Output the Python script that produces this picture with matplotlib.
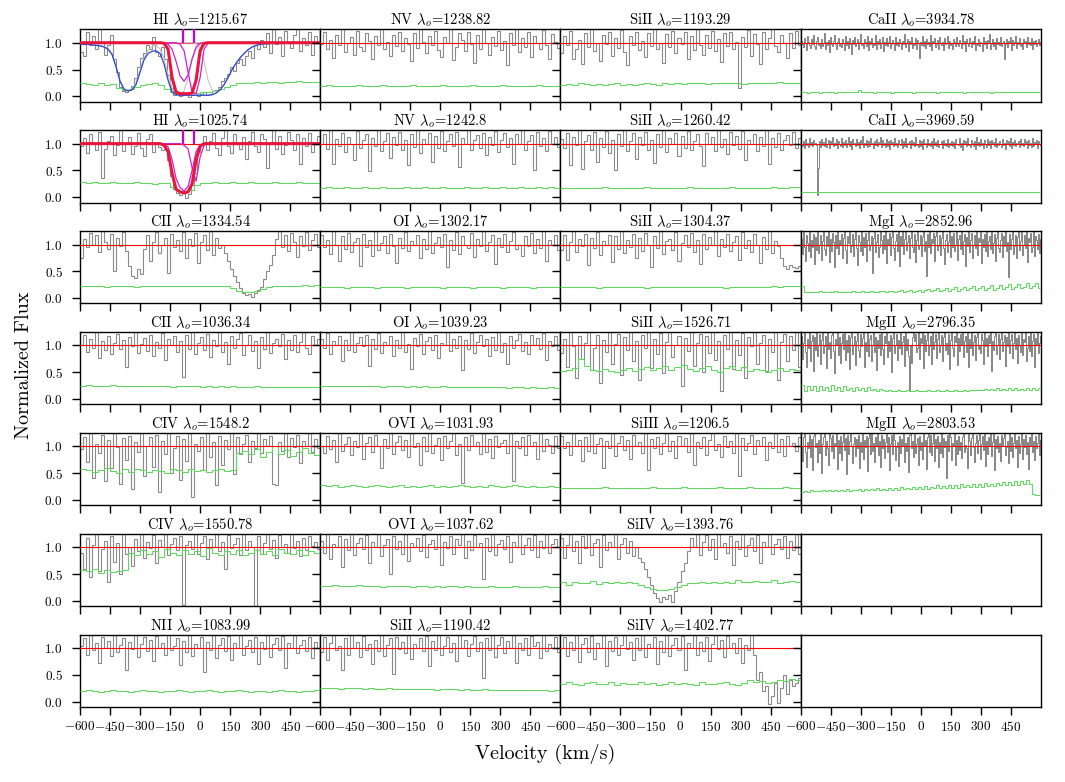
import numpy as np
import matplotlib
matplotlib.use('Agg')
import matplotlib.pyplot as plt

plt.rcParams['font.family'] = 'serif'
plt.rcParams['font.serif'] = ['cmr10']
plt.rcParams['mathtext.fontset'] = 'cm'
plt.rcParams['axes.formatter.use_mathtext'] = True
plt.rcParams['axes.linewidth'] = 1.0

# ---------------- panel labels ----------------
ions = ['HI', 'NV', 'SiII', 'CaII', 'HI', 'NV', 'SiII', 'CaII', 'CII', 'OI', 'SiII', 'MgI',
        'CII', 'OI', 'SiII', 'MgII', 'CIV', 'OVI', 'SiIII', 'MgII', 'CIV', 'OVI', 'SiIV',
        'NII', 'SiII', 'SiIV']
waves = ['1215.67', '1238.82', '1193.29', '3934.78', '1025.74', '1242.8', '1260.42', '3969.59',
         '1334.54', '1302.17', '1304.37', '2852.96', '1036.34', '1039.23', '1526.71', '2796.35',
         '1548.2', '1031.93', '1206.5', '2803.53', '1550.78', '1037.62', '1393.76',
         '1083.99', '1190.42', '1402.77']
xticks = [-600, -450, -300, -150, 0, 150, 300, 450]
yticks = [0.0, 0.5, 1.0]

# ---------------- normalized flux (x100) ----------------
flux_HI1215 = [82,75,120,95,112,88,125,102,78,96,115,70,45,18,10,8,12,20,35,55,72,80,95,88,110,82,75,92,
               70,40,15,3,5,0,2,4,-2,3,6,1,4,8,3,5,10,12,18,28,35,42,55,48,62,70,58,75,85,72,95,88,
               105,92,118,80,125,98,110,75,122,100,90,115,125,85,108,95,120,78,112,100]
flux_NV1238 = [98,120,88,105,72,115,95,125,82,100,110,78,122,92,85,118,104,70,112,96,125,88,102,76,115,94,120,84,108,98,
               66,118,90,125,102,80,112,95,122,86,74,110,100,125,68,92,118,105,84,120,97,62,115,88,125,100,78,110,94,122,
               86,104,58,118,96,125,82,108,92,120,74,112,100,88,124,95,70,116,102,90]
flux_SiII1193 = [80,112,95,122,70,88,105,60,118,92,125,84,100,66,115,98,120,76,108,90,124,82,58,112,96,120,86,104,74,118,
                 94,125,88,100,62,116,92,122,80,108,98,120,70,112,86,125,96,78,114,90,122,84,106,64,118,94,120,88,102,15,
                 110,92,124,76,116,98,60,120,88,108,125,94,82,114,100,72,118,90,122,96]
flux_CaII3934 = [104,97,92,108,99,86,112,101,95,90,106,98,114,93,88,103,110,96,100,91,
                 107,94,99,118,89,102,96,105,83,110,98,93,104,115,97,88,101,109,94,99,
                 92,106,100,87,113,96,103,91,108,98,79,105,97,111,93,100,106,89,102,117,
                 95,99,90,107,101,94,112,86,104,98,109,92,100,96,115,88,103,97,106,91,
                 99,110,85,102,96,108,94,101,113,90,97,105,99,87,111,95,102,93,107,100,
                 89,104,97,116,92,99,106,84,103,98,110,91,100,95,108,88,105,99,72,101,
                 96,112,93,104,90,107,98,101,94,114,87,103,99,109,92,97,105,89,111,100,
                 95,102,86,108,97,100,113,91,104,96,99,88,107,102,94,110,98,93,105,100,
                 90,115,97,103,85,106,99,94,109,101,92,104,98,112,87,100,96,107,93,102,
                 99,84,110,97,103,91,105,100,116,89,98,106,94,101,88,108,97,102,95,111,
                 93,100,104,70,98,107,92,103,99,110,86,105,96,101,113,90,102,97,108,94,
                 100,88,106,99,104,92,111,97,101,95,109,89,103,98,105,93,100,107,96,102]
flux_HI1025 = [95,110,82,118,100,88,122,35,90,105,115,78,98,125,86,102,112,80,96,120,92,76,108,118,85,100,94,88,
               90,70,40,15,8,5,10,-2,6,22,45,85,100,
               115,88,105,120,92,78,110,125,95,82,118,100,90,112,72,105,122,96,85,118,108,55,100,125,90,115,80,98,122,106,
               88,118,62,110,95,120,85,102,115]
flux_NV1242 = [100,118,90,125,62,108,96,120,84,112,100,70,124,92,106,118,48,110,96,125,86,104,120,74,112,98,122,88,106,60,
               118,94,125,82,108,100,120,66,114,92,124,86,104,118,96,122,56,110,100,125,88,106,116,92,120,78,112,98,124,84,
               106,120,94,110,62,118,100,125,88,104,116,50,122,96,110,86,124,100,112,94]
flux_SiII1260 = [108,92,120,60,112,98,125,52,104,116,88,122,66,110,94,124,82,106,50,118,96,125,86,104,120,72,112,98,122,88,
                 106,64,118,94,125,84,110,100,120,76,114,92,124,88,104,118,96,58,120,100,112,86,125,94,108,80,122,98,114,90,
                 124,70,106,100,118,86,112,96,125,62,110,94,120,88,106,116,98,122,92,110]
flux_CaII3969 = [100,96,104,92,108,97,102,94,110,98,103,95,107,99,101,97,5,55,105,93,
                 109,98,103,96,111,94,100,106,92,104,99,113,95,102,97,108,91,105,100,96,
                 110,94,103,98,107,93,101,112,96,104,90,108,99,102,95,109,97,103,92,106,
                 100,114,94,101,98,107,93,104,96,110,99,102,91,105,97,108,95,103,100,112,
                 93,106,98,101,94,109,96,104,90,107,99,103,95,111,97,102,93,106,100,98,
                 108,92,104,96,110,94,101,99,105,91,107,97,103,95,112,98,100,93,106,96,
                 104,90,109,99,102,94,108,97,101,95,105,92,110,98,103,96,107,94,100,99,
                 104,91,106,97,102,95,109,93,101,98,105,96,103,92,108,99,100,97,111,94,
                 102,88,106,99,104,95,110,97,100,93,107,101,96,105,90,112,98,103,95,108,
                 97,102,92,106,100,94,109,98,104,91,107,99,103,96,110,93,101,97,105,100,
                 94,108,98,102,90,106,99,104,96,111,92,103,98,107,95,101,100,105,93,109,
                 97,102,95,108,99,104,91,106,98,101,94,110,96,103,99,107,92,105,100,98]
flux_CII1334 = [75,110,95,122,100,118,86,125,104,92,120,50,112,98,124,88,60,42,38,55,45,
                92,118,70,105,124,85,100,112,46,120,95,108,88,124,75,110,98,122,66,104,118,90,125,80,112,94,100,85,70,
                55,42,30,18,10,5,8,2,10,15,20,35,50,62,80,
                110,125,95,118,88,122,104,76,115,98,124,90,108,120,96]
flux_OI1302 = [118,95,108,82,125,100,70,115,92,122,86,104,112,60,120,96,108,78,125,90,102,116,84,120,98,66,112,94,124,88,
               106,100,118,74,110,92,125,84,102,114,96,120,58,108,90,124,82,116,100,94,122,76,110,98,125,88,104,118,64,112,
               96,120,86,106,124,92,100,78,115,98,122,84,110,94,125,70,108,100,118,90]
flux_SiII1304 = [90,118,72,104,125,86,110,98,120,62,112,94,124,80,106,100,118,68,115,92,125,84,108,96,120,74,112,88,122,100,
                 58,116,94,125,82,106,110,90,124,70,102,118,96,122,86,108,64,120,92,114,100,125,78,110,96,120,88,104,116,72,
                 124,94,108,86,120,100,66,114,92,125,84,106,98,75,60,55,62,58,56,60]
flux_MgI2852 = [110,82,124,95,70,118,102,88,125,76,108,96,120,64,114,90,125,84,100,118,
                72,106,125,92,80,116,98,125,68,110,88,122,104,58,118,94,125,82,108,100,
                120,74,112,125,90,66,116,102,124,86,98,120,78,110,125,94,62,118,104,88,
                125,80,114,96,122,70,108,125,90,100,116,46,112,124,86,104,120,76,96,125,
                108,84,118,92,125,66,110,100,122,80,114,125,94,72,106,120,88,125,60,116,
                98,124,82,110,125,90,104,118,74,112,125,96,86,120,68,108,124,92,100,118,
                78,114,125,88,106,42,120,96,125,84,110,102,122,70,116,125,90,98,118,80,
                112,125,94,64,108,120,86,104,125,76,116,96,122,88,100,125,72,110,118,92,
                125,82,106,120,60,114,98,125,86,108,122,74,100,118,94,125,80,112,104,124,
                66,110,96,120,88,125,78,106,116,92,124,84,102,120,70,112,125,94,86,108,
                122,76,116,98,125,88,104,40,120,92,110,125,82,98,118,74,114,125,90,106,
                124,80,100,118,94,125,68,112,104,122,86,96,125,78,116,108,92,120,84,110]
flux_CII1036 = [100,120,88,112,96,125,76,108,92,118,84,104,122,94,110,60,116,98,125,86,102,114,90,120,80,106,96,124,72,112,
                100,118,88,108,42,120,94,125,84,104,116,92,122,78,110,98,125,88,106,66,118,96,112,124,82,100,120,90,108,58,
                116,94,125,86,104,112,98,122,74,110,92,120,88,106,125,96,84,118,100,112]
flux_OI1039 = [112,96,124,84,108,100,118,70,110,92,125,88,104,116,98,120,62,112,94,124,86,106,100,118,80,110,96,125,88,102,
               56,114,98,122,84,108,116,92,120,76,104,100,125,90,112,96,118,54,110,94,124,86,106,120,98,112,80,116,92,125,
               88,104,66,118,96,110,122,90,106,84,120,100,114,94,124,72,108,98,118,92]
flux_SiII1526 = [85,112,60,125,98,40,118,75,104,125,55,96,120,30,110,88,125,65,102,122,45,115,92,125,70,108,35,120,96,125,
                 58,112,84,124,48,106,125,78,100,118,25,114,90,125,62,104,122,50,118,86,125,72,108,15,120,94,125,56,110,82,
                 124,40,116,98,125,66,104,120,52,112,88,125,35,106,122,70,118,92,125,60]
flux_MgII2796 = [118,75,104,125,88,60,112,96,125,70,108,120,52,116,92,125,80,100,122,66,
                 110,125,86,98,118,58,124,94,106,76,120,125,90,48,112,100,125,82,116,68,
                 104,122,94,125,72,110,88,120,56,116,125,84,100,118,64,108,125,92,78,122,
                 98,114,125,60,106,90,124,80,112,120,70,100,125,88,116,54,110,96,122,82,
                 125,94,66,118,104,125,78,108,90,120,50,114,125,86,100,122,72,110,96,125,
                 84,106,118,62,124,92,112,80,15,100,68,116,125,108,122,88,96,125,74,114,
                 104,125,58,120,90,110,125,82,98,118,66,124,94,106,122,76,112,125,88,100,
                 120,70,116,125,92,104,84,122,56,110,125,96,80,118,106,125,64,114,90,122,
                 100,125,78,108,118,88,124,60,112,96,125,82,106,120,72,116,125,94,100,86,
                 122,110,66,125,98,114,80,120,104,125,52,108,92,118,125,84,100,122,74,112,
                 125,90,106,120,62,116,98,125,86,110,122,76,104,125,94,114,68,120,100,88,
                 124,82,112,106,125,70,96,118,90,125,80,108,122,60,114,100,125,86,104,118]
flux_CIV1548 = [95,118,70,125,40,104,88,122,35,112,60,125,98,30,116,75,120,20,108,90,125,45,100,118,62,122,15,110,85,125,
                50,96,120,38,114,72,125,5,104,92,118,55,124,80,108,28,120,66,112,95,125,48,118,85,104,122,70,110,96,125,
                88,114,100,120,30,28,108,92,125,80,116,98,122,68,110,100,125,90,114,96]
flux_OVI1031 = [100,88,120,95,112,70,125,92,104,118,84,110,98,124,76,106,118,90,122,100,60,114,96,125,86,108,120,94,112,80,
                124,98,106,65,118,92,125,88,102,116,74,120,96,110,124,84,104,32,118,94,122,100,108,86,125,90,114,78,120,98,
                106,112,88,124,35,110,96,118,84,122,100,108,76,125,92,114,102,88,120,96]
flux_SiIII1206 = [120,96,108,84,125,100,112,72,118,92,124,88,104,116,60,110,96,125,82,106,120,94,112,76,122,100,108,88,124,56,
                  114,96,118,86,106,125,92,110,78,120,100,116,90,124,66,108,96,118,84,112,125,94,104,80,120,98,110,88,124,45,
                  116,94,106,122,86,112,100,118,74,108,96,125,90,114,82,120,100,106,92,118]
flux_MgII2803 = [100,72,118,125,90,62,108,96,122,80,114,55,120,125,98,106,70,112,88,124,
                 50,104,118,125,84,110,96,66,125,116,92,122,78,106,100,124,58,112,88,120,
                 74,108,125,94,116,48,122,86,110,125,100,68,104,118,82,114,96,122,60,108,
                 90,125,76,112,98,120,54,116,125,86,124,92,106,70,118,100,125,84,110,62,
                 122,96,114,78,108,125,90,118,56,104,122,86,125,112,74,98,108,64,120,88,
                 114,100,124,70,106,92,118,52,122,125,96,110,80,125,88,104,116,66,120,94,
                 108,76,124,100,112,58,118,125,90,122,84,106,125,72,114,96,120,62,108,88,
                 124,80,116,98,110,40,122,92,125,118,74,106,100,124,66,112,86,120,94,108,
                 78,118,125,90,102,96,60,124,110,84,116,125,98,70,106,122,88,112,125,76,
                 104,120,94,125,64,110,86,118,100,124,82,108,125,56,114,96,120,90,106,72,
                 122,100,116,125,84,98,110,68,124,92,118,80,106,125,96,112,62,120,88,104,
                 125,76,114,98,122,86,108,58,118,100,124,90,110,74,120,96,106,125,84,112]
flux_CIV1550 = [90,60,118,45,104,125,55,96,112,35,120,72,108,50,124,88,100,65,116,92,125,80,110,98,122,70,114,100,125,86,
                106,118,94,120,-8,104,112,96,125,88,108,120,78,116,100,124,92,110,60,122,98,106,118,86,125,94,112,100,-10,120,
                88,108,124,96,114,80,122,100,106,90,125,98,112,84,118,94,120,102,110,96]
flux_OVI1037 = [112,90,124,78,106,100,120,64,116,94,125,86,108,118,96,122,70,110,100,124,84,104,116,50,120,96,112,88,125,74,
                108,100,118,92,122,82,106,114,96,125,66,110,98,120,88,116,104,124,80,112,94,122,100,108,40,118,92,125,86,106,
                114,96,120,72,110,100,124,88,104,118,94,122,82,112,98,125,90,106,116,100]
flux_SiIV1393 = [118,80,104,125,92,112,70,120,98,125,86,108,116,64,122,94,110,100,124,78,106,118,90,112,84,100,
                 80,72,60,45,30,15,5,-2,8,3,10,-3,18,35,55,70,
                 92,118,100,125,86,110,122,94,116,78,124,100,108,90,120,66,112,96,125,84,104,118,92,122,70,110,100,124,88,106,
                 116,96,120,80,112,94,125,88]
flux_NII1083 = [104,118,88,125,96,110,72,120,100,114,86,124,92,106,118,60,112,98,125,84,108,120,94,116,76,122,100,110,88,124,
                96,104,118,68,114,92,125,86,108,100,120,55,112,96,124,82,106,118,94,122,78,110,100,125,88,104,116,92,120,70,
                112,98,124,84,108,118,96,122,62,110,100,125,90,106,116,94,120,82,112,100]
flux_SiII1190 = [92,120,78,110,125,96,104,60,118,88,124,100,112,84,122,96,108,70,116,94,125,86,106,118,52,120,98,112,90,124,
                 80,108,100,118,94,122,66,114,96,125,88,104,120,92,110,76,124,100,116,86,108,122,94,112,45,118,96,125,84,106,
                 120,90,114,100,124,72,110,96,118,88,122,104,112,82,125,94,108,100,120,92]
flux_SiIV1402 = [100,120,86,112,96,125,74,108,118,92,122,80,110,100,124,66,114,94,120,88,106,125,98,112,78,118,96,124,84,108,
                 100,120,70,114,92,125,86,106,118,96,122,60,110,100,124,88,112,94,120,76,108,125,98,116,84,122,100,110,90,118,
                 72,106,96,124,88,40,55,20,30,-5,10,35,-3,25,50,15,40,30,35,45]

# ---------------- flux errors (x100) ----------------
err_HI1215 = [24,23,22,24,22,23,15,12,13,18,22,23,24,22,14,9,8,7,8,7,8,9,10,14,18,22,24,25,24,26,25,27,26,25,27,26,28,27,26,27]
err_NV1238 = [20,21,19,20,20,19,21,20,19,20,21,20,19,20,20,21,19,20,20,19,21,20,19,20,20,21,19,20,19,20,21,20,19,20,20,19,21,20,20,19]
err_SiII1193 = [22,23,22,24,23,22,23,22,23,24,22,23,22,23,24,23,22,24,23,24,23,24,25,24,23,24,25,24,25,24,23,25,24,25,24,25,26,25,24,25]
err_CaII3934 = [8,8,7,8,8,8,7,8,8,8,8,7,8,8,8,8,8,8,9,12,8,8,8,8,7,8,8,8,8,8,7,8,8,8,8,8,8,7,8,8,
                8,8,8,8,8,7,8,8,8,8,8,8,8,8,7,8,8,8,8,8,8,8,8,7,8,8,8,8,8,8,8,8,8,8,9,8,8,8,8,9]
err_HI1025 = [28,27,28,26,27,28,27,26,27,28,27,26,25,27,26,20,12,11,14,22,26,27,28,27,26,28,27,26,28,27,26,27,28,27,26,27,28,26,27,26]
err_NV1242 = [18,19,18,18,19,18,18,19,18,18,19,18,18,18,19,18,18,19,18,18,19,18,18,18,19,18,18,19,18,18,19,18,18,19,18,18,19,18,19,18]
err_SiII1260 = [18,17,18,18,17,18,18,19,18,18,17,18,18,18,19,18,18,17,18,18,18,19,18,18,17,18,18,18,19,18,18,18,17,18,18,19,18,18,19,19]
err_CaII3969 = [10,10,9,10,10,10,10,10,9,10,10,10,10,10,10,9,10,10,10,10,10,10,10,9,10,10,10,10,10,10,10,10,9,10,10,10,10,10,10,10,
                10,10,9,10,10,10,10,10,10,10,10,10,10,9,10,10,10,10,10,10,10,10,10,10,9,10,10,10,10,10,10,10,10,10,10,9,10,10,10,10]
err_CII1334 = [22,23,22,22,21,22,22,23,22,21,22,22,23,22,22,23,22,22,23,22,22,23,22,22,22,18,14,12,12,14,17,20,22,23,22,23,22,24,23,24]
err_OI1302 = [20,21,20,20,19,20,21,20,20,19,20,20,21,20,19,20,20,21,20,20,19,20,21,20,20,19,20,21,20,20,19,20,21,20,20,19,20,20,21,20]
err_SiII1304 = [20,21,20,20,21,20,19,20,21,20,20,21,20,20,19,20,21,20,20,21,20,20,21,20,20,21,20,19,20,21,20,20,21,20,20,22,21,22,23,22]
err_MgI2852 = [22,12,12,11,12,12,13,12,12,11,12,13,12,12,12,11,12,13,12,12,13,12,12,13,12,12,13,14,12,13,14,12,13,15,12,14,15,12,14,16,
               12,15,17,13,15,18,13,16,18,14,17,20,14,17,21,15,18,22,15,18,23,16,19,24,16,19,25,17,20,26,17,20,27,18,21,28,18,22,28,19]
err_CII1036 = [25,26,25,24,25,26,25,24,25,25,24,25,24,25,24,23,24,25,24,24,23,24,23,24,23,24,23,22,23,24,23,22,23,22,23,22,22,23,22,22]
err_OI1039 = [25,24,25,25,24,25,24,25,24,24,23,24,25,24,23,24,23,24,23,23,24,23,22,23,23,22,23,22,22,23,22,21,22,22,21,22,21,21,22,20]
err_SiII1526 = [52,55,58,75,62,55,53,56,52,50,55,58,52,56,60,54,58,62,55,60,64,56,52,58,62,55,50,58,62,55,60,52,56,54,50,55,58,52,56,54]
err_MgII2796 = [27,15,25,16,24,15,25,16,23,15,26,16,22,15,24,16,21,15,23,16,20,15,22,16,19,15,18,16,15,16,15,15,16,15,15,16,15,15,16,15,
                15,15,16,15,15,16,15,15,16,15,15,16,15,15,16,15,16,17,16,17,16,18,16,19,17,20,16,19,17,21,16,20,17,19,16,21,17,20,16,21]
err_CIV1548 = [58,55,52,56,60,54,50,57,53,58,55,52,56,54,50,58,55,53,57,54,56,52,55,58,54,56,88,92,85,95,80,90,100,86,94,82,90,96,88,84]
err_OVI1031 = [27,26,27,25,26,27,26,25,26,27,26,25,26,27,25,26,25,26,27,25,26,25,26,27,26,25,26,25,27,26,25,26,27,26,25,26,24,25,26,25]
err_SiIII1206 = [22,23,22,22,23,22,23,24,22,23,22,23,22,22,23,24,22,23,22,23,24,22,23,22,23,22,24,23,22,23,22,24,23,22,23,22,23,24,23,22]
err_MgII2803 = [15,17,15,18,16,17,16,18,16,19,17,18,16,19,17,20,17,19,18,21,17,20,18,21,18,22,19,21,18,23,19,22,19,24,20,23,20,25,20,24,
                21,26,21,25,22,27,22,26,22,28,23,27,23,29,24,28,24,30,25,29,25,31,26,30,26,32,27,33,27,34,28,35,28,36,29,37,30,12,10,10]
err_CIV1550 = [58,55,60,52,57,54,56,58,90,85,95,88,92,82,96,90,86,94,88,92,84,98,90,86,92,88,95,85,90,94,88,92,86,96,90,88,94,85,92,90]
err_OVI1037 = [28,27,29,28,27,28,29,27,28,27,26,28,27,28,27,26,27,28,26,27,26,27,28,26,27,26,25,26,27,26,25,26,27,25,26,25,26,27,25,26]
err_SiIV1393 = [35,30,36,33,34,37,32,35,34,36,33,35,34,30,25,22,20,21,22,26,30,34,33,36,34,35,33,36,34,38,35,36,37,35,36,38,34,36,37,35]
err_NII1083 = [20,21,20,19,20,21,20,20,19,20,21,20,20,19,20,20,21,20,19,20,20,21,20,19,20,20,21,20,19,20,20,19,20,21,20,20,19,20,20,21]
err_SiII1190 = [25,26,25,24,25,26,25,24,25,24,24,25,24,23,24,24,23,24,23,22,23,24,23,22,23,22,22,23,22,21,22,22,21,22,21,21,22,21,20,21]
err_SiIV1402 = [33,36,34,32,35,37,33,34,36,32,35,33,34,36,33,35,32,34,36,33,35,34,32,36,34,33,35,36,34,32,35,40,36,38,35,37,40,38,42,40]

# ---------------- HI Voigt models (x100, 20 km/s sampling from -600 to +600) ----------------
model_HI1215_total = [97,97,97,96,95,94,92,88,78,55,28,13,10,12,22,45,68,80,84,85,80,60,30,8,3,
                      2,2,2,2,2,2,2,2,3,6,12,22,35,50,62,72,80,87,92,95,97,
                      98,98,99,99,99,99,100,100,100,100,100,100,100,100,100]
model_HI1215_fit = [100]*21 + [99,88,35,8,5,5,5,6,30,85,99] + [100]*29
model_HI1215_c1 = [100]*21 + [99,97,88,65,38,28,40,70,92,99] + [100]*30
model_HI1215_c2 = [100]*25 + [97,85,45,8,5,35,88,99] + [100]*28
model_HI1215_o1 = [98,98,98,97,96,95,93,89,80,56,30,15,12,14,25,48,72,86,93,97,99] + [100]*40
model_HI1215_o2 = [100]*18 + [98,95,88,70,40,15,5,4,10,35,68,88,96,99] + [100]*29
model_HI1215_o3 = [100]*29 + [98,90,65,30,12,8,12,22,35,50,62,72,80,87,92,95,97,98] + [100]*14
model_HI1025_fit = [100]*21 + [97,85,45,15,10,8,10,25,70,95] + [100]*30
model_HI1025_c1 = [100]*21 + [99,94,70,35,18,12,20,50,85,98] + [100]*30
model_HI1025_c2 = [100]*26 + [97,90,55,30,75,97] + [100]*29
component_v = [-83, -32]

# ---------------- figure layout ----------------
W, H = 1065, 782
fig = plt.figure(figsize=(W / 100, H / 100), dpi=100)
x0, colw = 80.0, 240.2
y0, pitch, axh = 29.3, 100.9, 72.4
nrows, ncols = 7, 4

panel_flux = [flux_HI1215, flux_NV1238, flux_SiII1193, flux_CaII3934,
              flux_HI1025, flux_NV1242, flux_SiII1260, flux_CaII3969,
              flux_CII1334, flux_OI1302, flux_SiII1304, flux_MgI2852,
              flux_CII1036, flux_OI1039, flux_SiII1526, flux_MgII2796,
              flux_CIV1548, flux_OVI1031, flux_SiIII1206, flux_MgII2803,
              flux_CIV1550, flux_OVI1037, flux_SiIV1393,
              flux_NII1083, flux_SiII1190, flux_SiIV1402]
panel_err = [err_HI1215, err_NV1238, err_SiII1193, err_CaII3934,
             err_HI1025, err_NV1242, err_SiII1260, err_CaII3969,
             err_CII1334, err_OI1302, err_SiII1304, err_MgI2852,
             err_CII1036, err_OI1039, err_SiII1526, err_MgII2796,
             err_CIV1548, err_OVI1031, err_SiIII1206, err_MgII2803,
             err_CIV1550, err_OVI1037, err_SiIV1393,
             err_NII1083, err_SiII1190, err_SiIV1402]
slots = [(r, c) for r in range(nrows) for c in range(ncols) if not (r >= 5 and c == 3)]

GRAY = '#8a8a8a'
DARK = '#444444'
GREEN = '#62d862'

axes = {}
for r in range(nrows):
    for c in range(ncols):
        ax = fig.add_axes([(x0 + c * colw) / W, 1 - (y0 + r * pitch + axh) / H, colw / W, axh / H])
        ax.set_xlim(-600, 600)
        ax.set_ylim(-0.1, 1.25)
        ax.set_xticks(xticks)
        ax.set_yticks(yticks)
        ax.tick_params(direction='out', length=5.5, width=1.0, labelsize=9.5)
        ax.tick_params(axis='y', pad=7)
        ax.tick_params(labelbottom=(r == nrows - 1), labelleft=(c == 0))
        axes[(r, c)] = ax

for k, (r, c) in enumerate(slots):
    ax = axes[(r, c)]
    f = np.array(panel_flux[k]) / 100.0
    e = np.array(panel_err[k]) / 100.0
    fe = np.linspace(-600, 600, len(f) + 1)
    ee = np.linspace(-600, 600, len(e) + 1)
    dense = (c == 3)
    ax.stairs(f, fe, baseline=None, color=DARK if dense else GRAY, lw=0.45 if dense else 0.8, zorder=2)
    ax.stairs(e, ee, baseline=None, color=GREEN, lw=0.8, zorder=3)
    ax.axhline(1.0, color='red', lw=0.8, zorder=4)
    ax.set_title(f'{ions[k]} $\\lambda_o$={waves[k]}', fontsize=10.5, pad=3)

vm = np.linspace(-600, 600, 61)
ax = axes[(0, 0)]
for g in (model_HI1215_o1, model_HI1215_o2, model_HI1215_o3):
    ax.plot(vm, np.array(g) / 100, color='#c4c4c4', lw=0.8, zorder=5)
ax.plot(vm, np.array(model_HI1215_total) / 100, color='#2a46d0', lw=0.9, zorder=6)
for g in (model_HI1215_c1, model_HI1215_c2):
    ax.plot(vm, np.array(g) / 100, color='#d020d0', lw=0.9, zorder=7)
ax.plot(vm, np.array(model_HI1215_fit) / 100, color='#e8163c', lw=2.2, zorder=8)
ax.vlines(component_v, 1.0, 1.25, color='#cc00cc', lw=1.6, zorder=9)

ax = axes[(1, 0)]
for g in (model_HI1025_c1, model_HI1025_c2):
    ax.plot(vm, np.array(g) / 100, color='#d020d0', lw=0.9, zorder=7)
ax.plot(vm, np.array(model_HI1025_fit) / 100, color='#e8163c', lw=2.2, zorder=8)
ax.vlines(component_v, 1.0, 1.25, color='#cc00cc', lw=1.6, zorder=9)

fig.text(545 / W, 1 - 754 / H, 'Velocity (km/s)', fontsize=14.5, ha='center', va='center')
fig.text(24 / W, 1 - 365 / H, 'Normalized Flux', fontsize=14.5, ha='center', va='center', rotation=90)

fig.savefig('out.png', dpi=100)
